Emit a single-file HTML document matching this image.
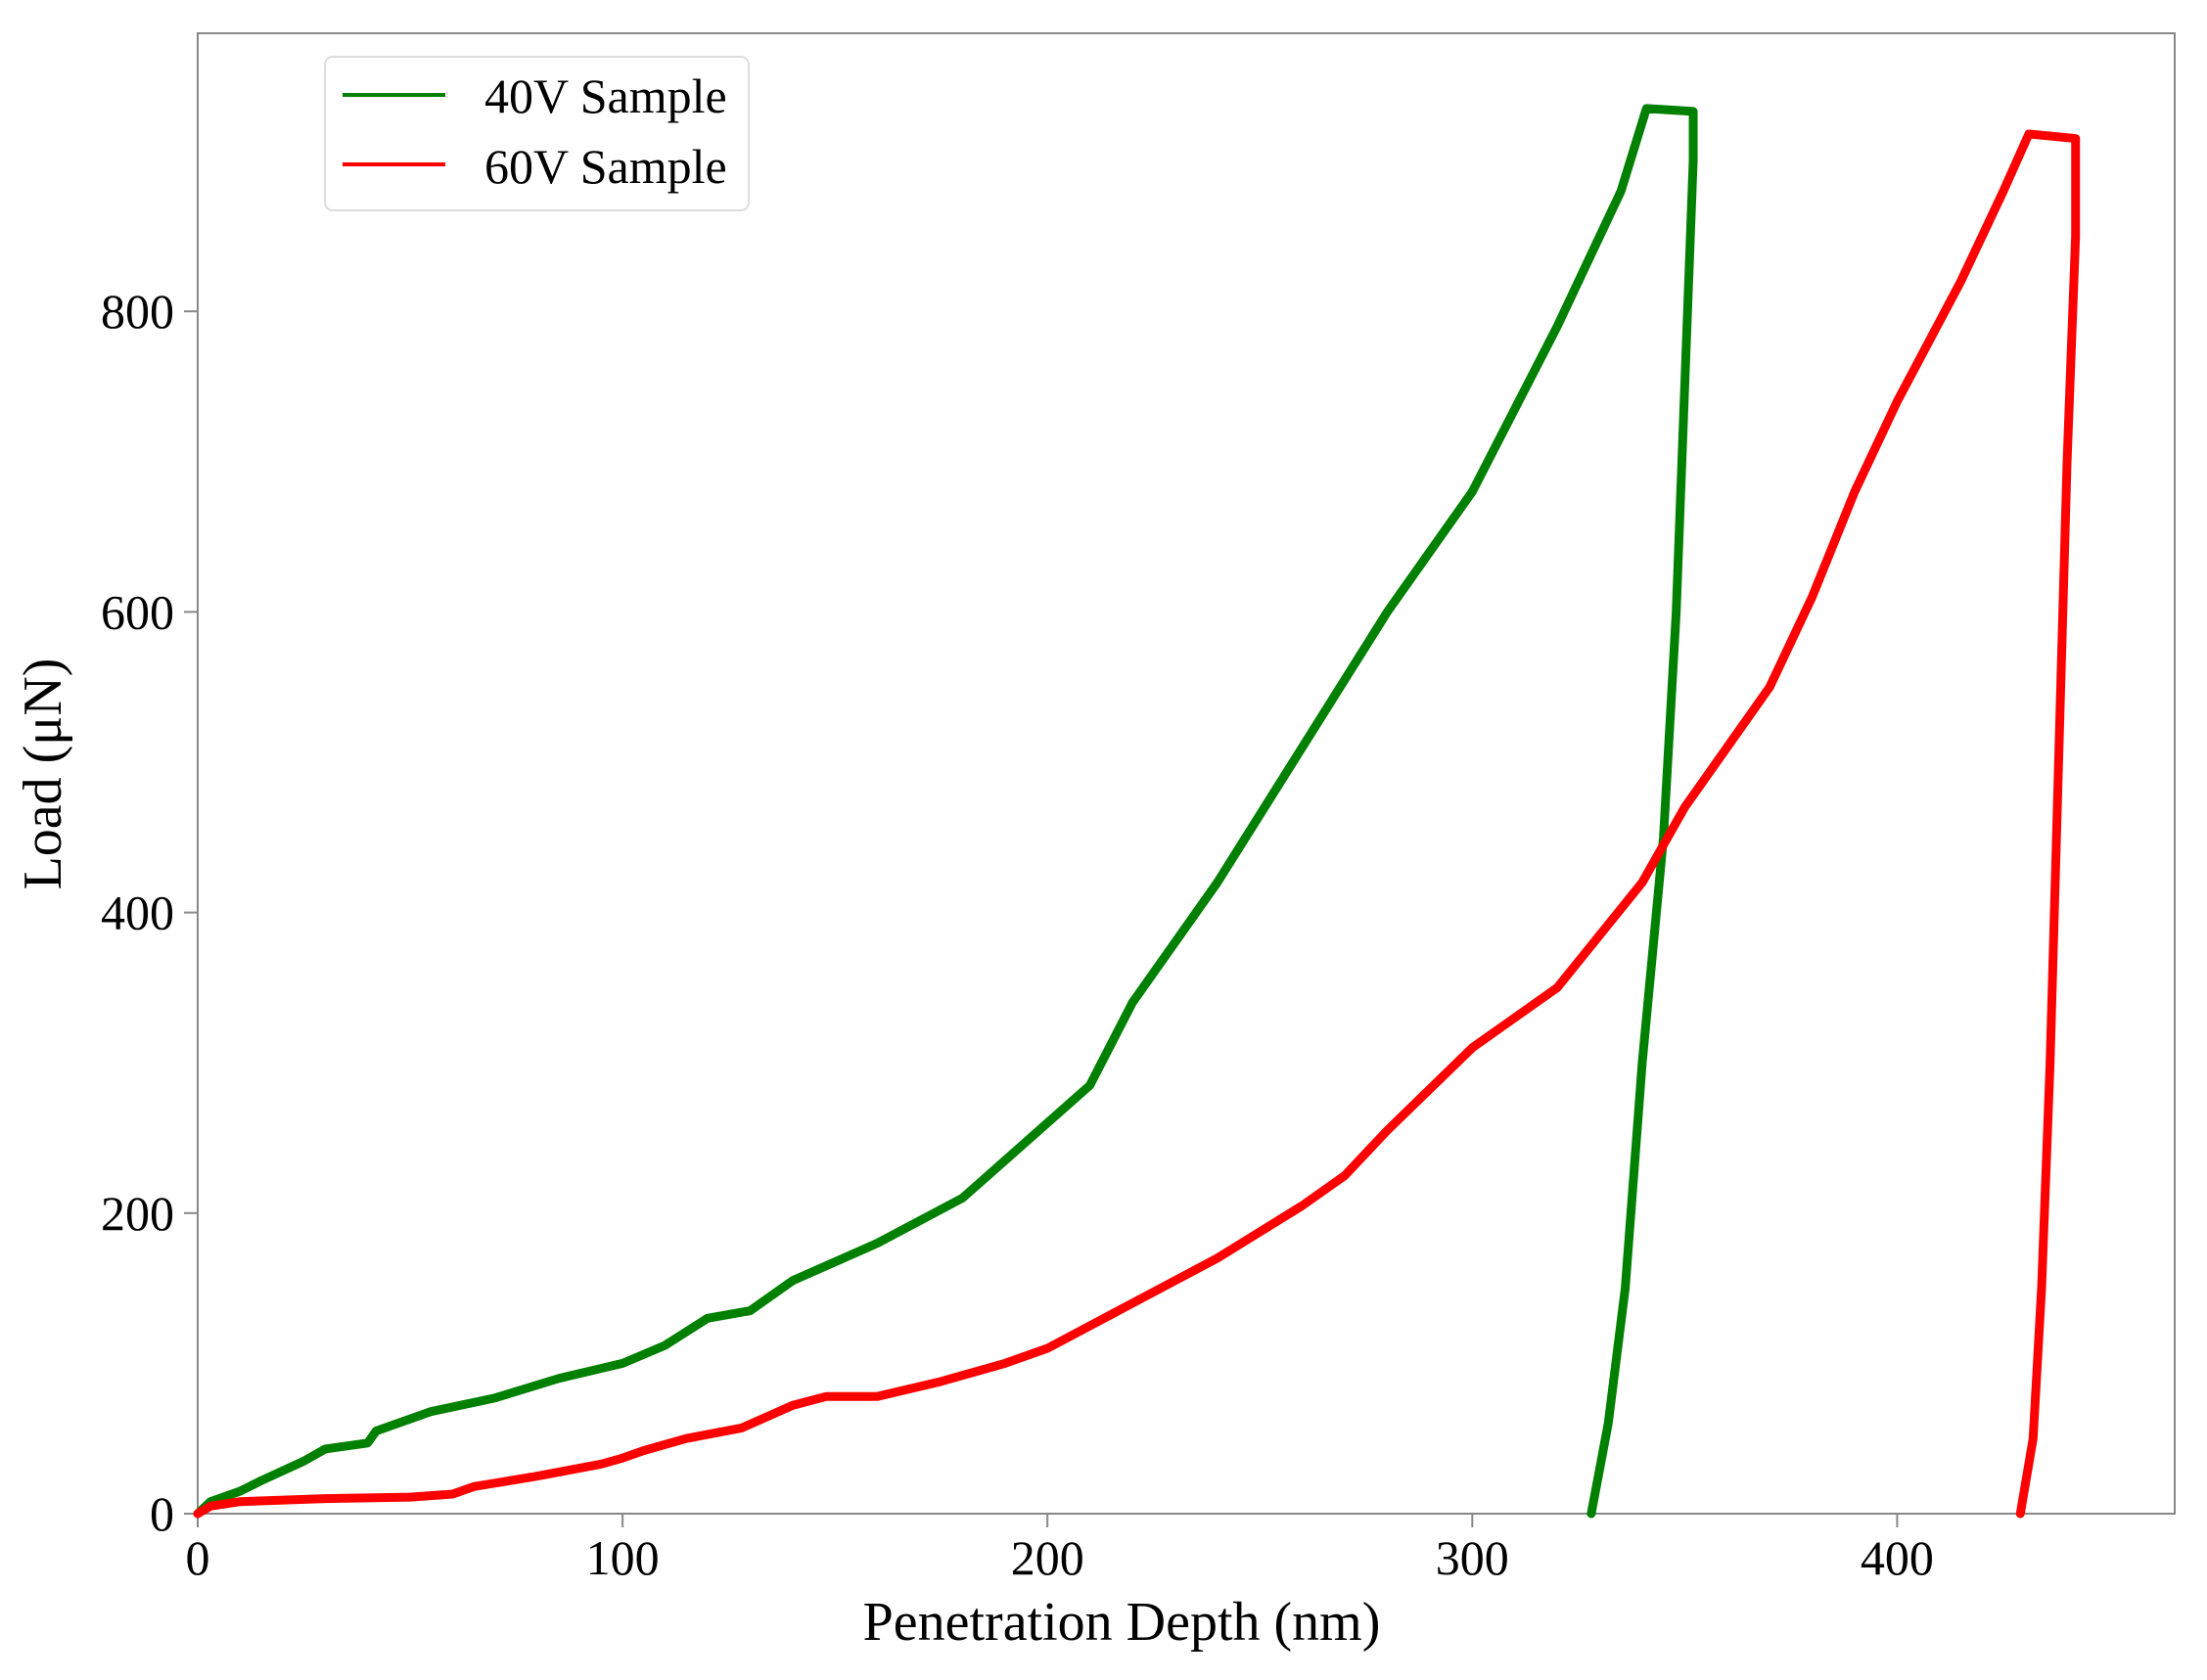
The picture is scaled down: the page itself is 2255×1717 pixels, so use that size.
<!DOCTYPE html>
<html><head><meta charset="utf-8"><style>
html,body{margin:0;padding:0;background:#fff;}
svg{display:block;font-family:"Liberation Serif",serif;}
</style></head><body>
<svg id="chart" width="2255" height="1717" viewBox="0 0 2255 1717">
<rect x="202" y="34" width="2020" height="1513" fill="#fff" stroke="#888" stroke-width="2"/>
<g id="ticks"></g>
<g id="series"></g>
<text x="1146" y="1676" font-size="56" text-anchor="middle">Penetration Depth (nm)</text>
<text transform="translate(62,791) rotate(-90)" font-size="56" text-anchor="middle">Load (μN)</text>
<g>
<rect x="332" y="58" width="433" height="157" rx="8" fill="#fff" stroke="#ddd" stroke-width="2"/>
<line x1="350" y1="97" x2="455" y2="97" stroke="#008000" stroke-width="4"/>
<text x="495" y="115" font-size="50">40V Sample</text>
<line x1="350" y1="168" x2="455" y2="168" stroke="#ff0000" stroke-width="4"/>
<text x="495" y="187" font-size="50">60V Sample</text>
</g>
</svg>
<script>
const xTicks=[0,100,200,300,400];
const yTicks=[0,200,400,600,800];
const g40x=[0,3,10,15,25,30,40,42,55,70,85,100,110,120,130,140,160,180,200,210,220,240,260,280,300,320,335,341,352,352,350,348,345,340,336,332,328];
const g40y=[0,8,15,22,35,43,47,55,68,77,90,100,112,130,135,155,180,210,260,285,340,420,510,600,680,790,880,935,933,900,750,600,450,300,150,60,0];
const r60x=[0,3,10,30,50,60,65,80,95,100,105,115,128,140,148,160,175,190,200,210,220,240,260,270,280,300,310,320,340,350,370,380,390,400,415,425,431,442,442,440,438,436,434,432,429];
const r60y=[0,5,8,10,11,13,18,25,33,37,42,50,57,72,78,78,88,100,110,125,140,170,205,225,255,310,330,350,420,470,550,610,680,740,820,880,918,915,850,700,500,300,150,50,0];
const X0=202,XS=4.341,Y0=1547,YS=1.536;
const sx=v=>X0+v*XS, sy=v=>Y0-v*YS;
const NS="http://www.w3.org/2000/svg";
const tk=document.getElementById('ticks');
xTicks.forEach(t=>{
  const l=document.createElementNS(NS,'line');
  l.setAttribute('x1',sx(t));l.setAttribute('x2',sx(t));l.setAttribute('y1',Y0);l.setAttribute('y2',Y0+14);
  l.setAttribute('stroke','#888');l.setAttribute('stroke-width','2');
  
  
  tk.appendChild(l);
  const tx=document.createElementNS(NS,'text');
  tx.setAttribute('x',sx(t));tx.setAttribute('y',Y0+62);tx.setAttribute('font-size','50');tx.setAttribute('text-anchor','middle');
  tx.textContent=t;
  
  
  tk.appendChild(tx);
});
yTicks.forEach(t=>{
  const l=document.createElementNS(NS,'line');
  l.setAttribute('x1',X0-14);l.setAttribute('x2',X0);l.setAttribute('y1',sy(t));l.setAttribute('y2',sy(t));
  l.setAttribute('stroke','#888');l.setAttribute('stroke-width','2');
  
  
  tk.appendChild(l);
  const tx=document.createElementNS(NS,'text');
  tx.setAttribute('x',X0-24);tx.setAttribute('y',sy(t)+17);tx.setAttribute('font-size','50');tx.setAttribute('text-anchor','end');
  tx.textContent=t;
  
  
  tk.appendChild(tx);
});
const sg=document.getElementById('series');
function draw(xs,ys,color,name){
  const p=document.createElementNS(NS,'polyline');
  p.setAttribute('points',xs.map((x,i)=>sx(x)+','+sy(ys[i])).join(' '));
  p.setAttribute('fill','none');p.setAttribute('stroke',color);p.setAttribute('stroke-width','9');
  p.setAttribute('stroke-linejoin','round');p.setAttribute('stroke-linecap','round');
  
  
  sg.appendChild(p);
}
draw(g40x,g40y,'#008000','series-40v');
draw(r60x,r60y,'#ff0000','series-60v');
</script>
</body></html>
